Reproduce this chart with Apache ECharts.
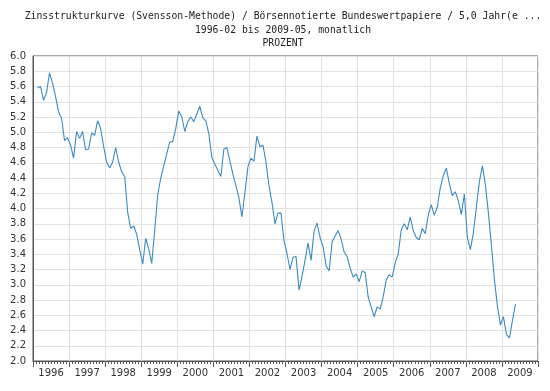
<!DOCTYPE html>
<html>
<head>
<meta charset="utf-8">
<script src="https://cdn.jsdelivr.net/npm/echarts@6/dist/echarts.min.js"></script>
<style>html,body{margin:0;padding:0;background:#fff;}#c{width:550px;height:391px;}</style>
</head>
<body>
<div id="c"></div>
<script>
// Monthly values 1996-02 .. 2009-05 (Prozent)
const values = [
  5.58, 5.60, 5.42, 5.52, 5.78, 5.64, 5.47, 5.27, 5.18, 4.89, 4.93,
  4.83, 4.66, 5.01, 4.92, 5.01, 4.77, 4.78, 4.99, 4.96, 5.15, 5.05, 4.81,
  4.61, 4.53, 4.61, 4.80, 4.61, 4.48, 4.42, 3.95, 3.74, 3.77, 3.66, 3.46,
  3.27, 3.61, 3.47, 3.28, 3.72, 4.18, 4.40, 4.56, 4.72, 4.87, 4.88, 5.05,
  5.28, 5.20, 5.01, 5.14, 5.20, 5.14, 5.24, 5.34, 5.19, 5.15, 4.98, 4.67,
  4.58, 4.50, 4.42, 4.78, 4.80, 4.62, 4.45, 4.30, 4.14, 3.89, 4.21, 4.55,
  4.66, 4.62, 4.95, 4.81, 4.83, 4.61, 4.30, 4.08, 3.80, 3.94, 3.94, 3.58,
  3.41, 3.20, 3.36, 3.37, 2.93, 3.11, 3.32, 3.55, 3.32, 3.70, 3.81, 3.62,
  3.50, 3.25, 3.18, 3.56, 3.64, 3.71, 3.60, 3.43, 3.37, 3.22, 3.10, 3.14,
  3.04, 3.18, 3.16, 2.84, 2.71, 2.58, 2.71, 2.68, 2.84, 3.06, 3.13, 3.10,
  3.29, 3.40, 3.72, 3.80, 3.72, 3.89, 3.71, 3.62, 3.59, 3.74, 3.67, 3.92,
  4.05, 3.91, 4.02, 4.27, 4.43, 4.53, 4.33, 4.17, 4.22, 4.10, 3.92, 4.19,
  3.62, 3.46, 3.68, 4.02, 4.35, 4.56, 4.31, 3.94, 3.52, 3.07, 2.72, 2.47,
  2.58, 2.35, 2.30, 2.53, 2.75
];
const years = ['1996','1997','1998','1999','2000','2001','2002','2003','2004','2005','2006','2007','2008','2009'];
const titleLines = [
  'Zinsstrukturkurve (Svensson-Methode) / Börsennotierte Bundeswertpapiere / 5,0 Jahr(e ...',
  '1996-02 bis 2009-05, monatlich',
  'PROZENT'
];
const firstMonthOffset = 1; // data begins in February 1996

// month categories across the axis (1996-01 .. 2009-12)
const months = [];
years.forEach(y => { for (let m = 1; m <= 12; m++) months.push(y + '-' + (m < 10 ? '0' + m : m)); });
const seriesData = months.map((_, i) => {
  const k = i - firstMonthOffset;
  return (k >= 0 && k < values.length) ? values[k] : null;
});

const chart = echarts.init(document.getElementById('c'), null, {renderer: 'canvas'});
const mono = 'DejaVu Sans Mono';
chart.setOption({
  animation: false,
  backgroundColor: '#fff',
  graphic: titleLines.map((t, i) => ({
    type: 'text', x: 283, y: [16, 30, 43][i],
    style: {text: t, font: '9.75px "' + mono + '"', fill: '#222', textAlign: 'center', textVerticalAlign: 'middle'}
  })),
  grid: {left: 33, right: 12, top: 56, bottom: 30, show: true, borderColor: '#555', borderWidth: 1, backgroundColor: '#fff'},
  xAxis: [
    {
      type: 'category', data: months, boundaryGap: true, position: 'bottom',
      axisLine: {show: true, lineStyle: {color: '#555'}},
      axisTick: {show: true, interval: 0, length: 3, lineStyle: {color: '#555'}},
      axisLabel: {show: false},
      splitLine: {show: false}
    },
    {
      type: 'category', data: years, boundaryGap: true, position: 'bottom', offset: 0,
      axisLine: {show: false},
      axisTick: {show: true, interval: 0, length: 6, lineStyle: {color: '#555'}},
      axisLabel: {show: true, interval: 0, margin: 7, color: '#333', fontSize: 10, fontFamily: 'DejaVu Sans'},
      splitLine: {show: true, interval: 0, lineStyle: {color: '#e2e2e2', width: 1}}
    }
  ],
  yAxis: {
    type: 'value', min: 2, max: 6, interval: 0.2,
    axisLine: {show: true, lineStyle: {color: '#555'}},
    axisTick: {show: false},
    axisLabel: {margin: 7, color: '#333', fontSize: 10, fontFamily: 'DejaVu Sans', formatter: v => v.toFixed(1)},
    splitLine: {show: true, lineStyle: {color: '#e2e2e2', width: 1}}
  },
  series: [{
    type: 'line', xAxisIndex: 0, data: seriesData, showSymbol: false, connectNulls: false,
    lineStyle: {color: '#3b8bc2', width: 1.1}, itemStyle: {color: '#3b8bc2'}
  }]
});
</script>
</body>
</html>
